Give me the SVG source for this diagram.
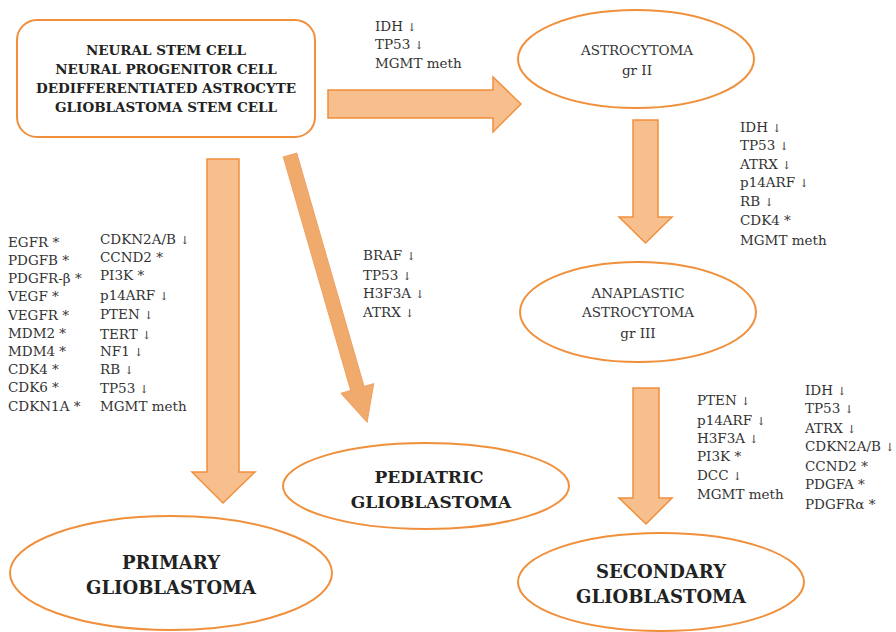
<svg xmlns="http://www.w3.org/2000/svg" width="896" height="632" viewBox="0 0 896 632">
<style>
.node{fill:#fff;stroke:#F0903C;stroke-width:2}
.arr{fill:#F8BF8E;stroke:#F0903C;stroke-width:1.5}
.diag{fill:#F0AA6C;stroke:#EFA264;stroke-width:1}
.t{font-family:"DejaVu Serif","Liberation Serif",serif;font-size:13.5px;fill:#333}
.b{font-family:"DejaVu Serif","Liberation Serif",serif;font-weight:bold;fill:#222;text-anchor:middle}
.c{text-anchor:middle}
.s{font-size:11px}
</style>
<rect width="896" height="632" fill="#fff"/>
<g id="connectors">
<polygon class="arr" points="328,90 493,90 493,77 521,104 493,132 493,118 328,118"/>
<polygon class="arr" points="633,120 658,120 658,217 672,217 645.5,243 619,217 633,217"/>
<polygon class="arr" points="633,388 659,388 659,498 672,498 646,524 619,498 633,498"/>
<polygon class="arr" points="207,159 239,159 239,472 255,472 223,503 192,472 207,472"/>
<polygon class="diag" transform="translate(290,155) rotate(-16.1)" points="-7,0 7,0 7,243 17,243 0,278 -17,243 -7,243"/>
</g>
<g id="stem">
<rect class="node" x="17" y="20" width="298" height="117" rx="20"/>
<text class="b" font-size="13.5" x="166" y="55">NEURAL STEM CELL</text>
<text class="b" font-size="13.5" x="166" y="74">NEURAL PROGENITOR CELL</text>
<text class="b" font-size="13.5" x="166" y="93">DEDIFFERENTIATED ASTROCYTE</text>
<text class="b" font-size="13.5" x="166" y="112">GLIOBLASTOMA STEM CELL</text>
</g>
<g id="astrocytoma">
<ellipse class="node" cx="636" cy="59" rx="118" ry="49"/>
<text class="t c" x="637" y="55">ASTROCYTOMA</text>
<text class="t c" x="637" y="75">gr II</text>
</g>
<g id="anaplastic">
<ellipse class="node" cx="638" cy="312" rx="118" ry="50"/>
<text class="t c" x="638" y="298">ANAPLASTIC</text>
<text class="t c" x="638" y="317">ASTROCYTOMA</text>
<text class="t c" x="638" y="338">gr III</text>
</g>
<g id="pediatric">
<ellipse class="node" cx="426" cy="486" rx="143" ry="43"/>
<text class="b" font-size="17" x="429" y="483">PEDIATRIC</text>
<text class="b" font-size="17" x="431" y="508">GLIOBLASTOMA</text>
</g>
<g id="primary">
<ellipse class="node" cx="171" cy="573" rx="161" ry="57"/>
<text class="b" font-size="18" x="171" y="569">PRIMARY</text>
<text class="b" font-size="18" x="171" y="594">GLIOBLASTOMA</text>
</g>
<g id="secondary">
<ellipse class="node" cx="661" cy="582" rx="143" ry="49"/>
<text class="b" font-size="18" x="661" y="578">SECONDARY</text>
<text class="b" font-size="18" x="661" y="603">GLIOBLASTOMA</text>
</g>
<g id="labels">
<text class="t" x="375" y="31">IDH <tspan class="s">↓</tspan></text>
<text class="t" x="375" y="49">TP53 <tspan class="s">↓</tspan></text>
<text class="t" x="375" y="68">MGMT meth</text>

<text class="t" x="740" y="132">IDH  <tspan class="s">↓</tspan></text>
<text class="t" x="740" y="150">TP53 <tspan class="s">↓</tspan></text>
<text class="t" x="740" y="169">ATRX <tspan class="s">↓</tspan></text>
<text class="t" x="740" y="187">p14ARF <tspan class="s">↓</tspan></text>
<text class="t" x="740" y="206">RB <tspan class="s">↓</tspan></text>
<text class="t" x="740" y="225">CDK4 *</text>
<text class="t" x="740" y="245">MGMT meth</text>

<text class="t" x="363" y="260">BRAF <tspan class="s">↓</tspan></text>
<text class="t" x="363" y="280">TP53 <tspan class="s">↓</tspan></text>
<text class="t" x="363" y="298">H3F3A <tspan class="s">↓</tspan></text>
<text class="t" x="363" y="317">ATRX <tspan class="s">↓</tspan></text>

<text class="t" x="8" y="247">EGFR *</text>
<text class="t" x="8" y="265">PDGFB *</text>
<text class="t" x="8" y="283">PDGFR-β *</text>
<text class="t" x="8" y="301">VEGF *</text>
<text class="t" x="8" y="320">VEGFR *</text>
<text class="t" x="8" y="338">MDM2 *</text>
<text class="t" x="8" y="356">MDM4 *</text>
<text class="t" x="8" y="374">CDK4 *</text>
<text class="t" x="8" y="392">CDK6 *</text>
<text class="t" x="8" y="411">CDKN1A *</text>

<text class="t" x="100" y="244">CDKN2A/B <tspan class="s">↓</tspan></text>
<text class="t" x="100" y="262">CCND2 <tspan>*</tspan></text>
<text class="t" x="100" y="280">PI3K *</text>
<text class="t" x="100" y="300">p14ARF <tspan class="s">↓</tspan></text>
<text class="t" x="100" y="319">PTEN <tspan class="s">↓</tspan></text>
<text class="t" x="100" y="339">TERT <tspan class="s">↓</tspan></text>
<text class="t" x="100" y="356">NF1 <tspan class="s">↓</tspan></text>
<text class="t" x="100" y="374">RB <tspan class="s">↓</tspan></text>
<text class="t" x="100" y="393">TP53 <tspan class="s">↓</tspan></text>
<text class="t" x="100" y="411">MGMT meth</text>

<text class="t" x="697" y="405">PTEN <tspan class="s">↓</tspan></text>
<text class="t" x="697" y="425">p14ARF <tspan class="s">↓</tspan></text>
<text class="t" x="697" y="443">H3F3A <tspan class="s">↓</tspan></text>
<text class="t" x="697" y="461">PI3K *</text>
<text class="t" x="697" y="480">DCC <tspan class="s">↓</tspan></text>
<text class="t" x="697" y="499">MGMT meth</text>

<text class="t" x="805" y="395">IDH  <tspan class="s">↓</tspan></text>
<text class="t" x="805" y="413">TP53 <tspan class="s">↓</tspan></text>
<text class="t" x="805" y="433">ATRX <tspan class="s">↓</tspan></text>
<text class="t" x="805" y="451">CDKN2A/B <tspan class="s">↓</tspan></text>
<text class="t" x="805" y="471">CCND2  *</text>
<text class="t" x="805" y="489">PDGFA *</text>
<text class="t" x="805" y="509">PDGFRα *</text>
</g>
</svg>
